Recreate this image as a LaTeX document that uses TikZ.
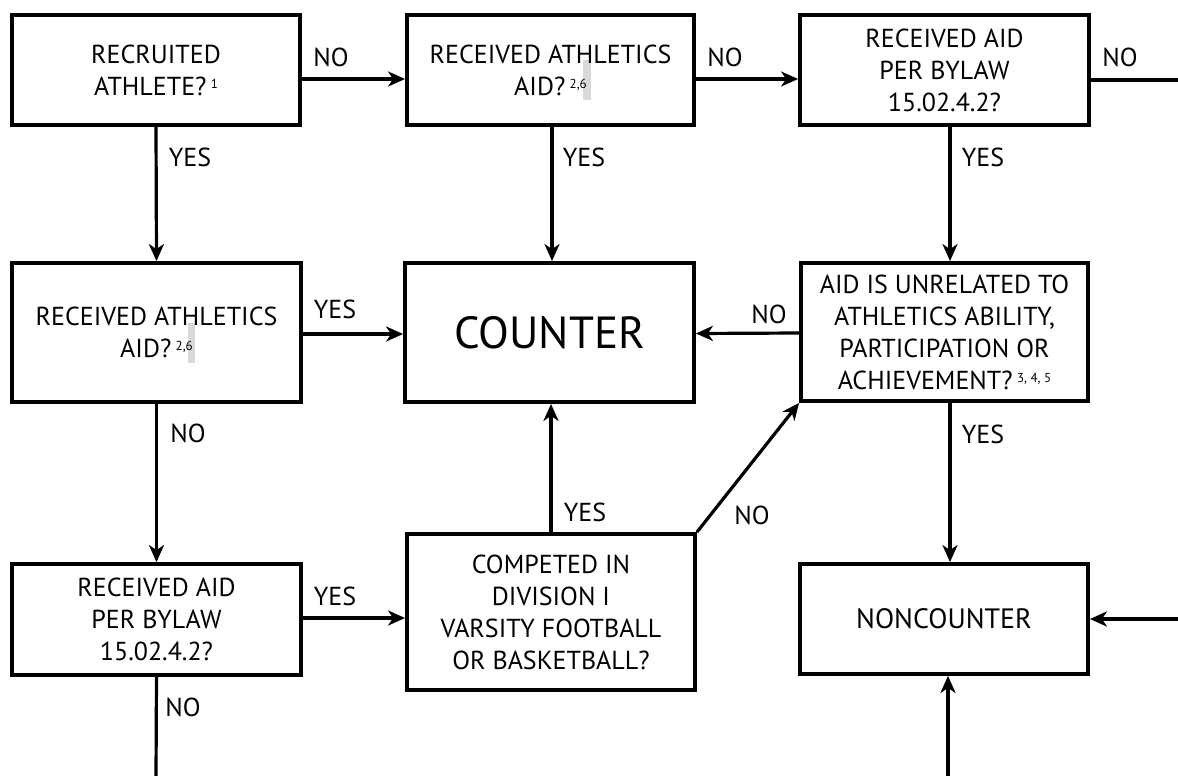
\documentclass[tikz,border=0pt]{standalone}
\usepackage{fontspec}
\setmainfont{PT Sans}
\usetikzlibrary{arrows.meta}
\newcommand{\lblfont}{\fontsize{26}{32}\selectfont}
\newcommand{\fnote}[1]{\,\raisebox{7pt}{\fontsize{13}{13}\selectfont #1}}
\tikzset{
  box/.style={draw, line width=3.8pt, align=center, inner sep=0pt, font=\lblfont},
  arr/.style={line width=3.2pt, -{Stealth[length=17pt,width=15pt,inset=5pt]}},
  plain/.style={line width=3.2pt},
  lab/.style={font=\lblfont, inner sep=0pt},
  bar/.style={fill=black!15, draw=none}
}
\begin{document}
\begin{tikzpicture}[x=1pt,y=-1pt]
\useasboundingbox (0,0) rectangle (1178,776);
% light gray marks behind footnote numbers
\fill[bar] (583,60) rectangle (591,100);
\fill[bar] (188,323) rectangle (195,363);
% boxes
\node[box, minimum width=288pt, minimum height=110pt] (A) at (156,70) {RECRUITED\\ATHLETE?\fnote{1}};
\node[box, minimum width=287pt, minimum height=110pt] (B) at (550.5,70) {RECEIVED ATHLETICS\\AID?\fnote{2,6}};
\node[box, minimum width=289pt, minimum height=110pt] (C) at (944.5,70) {RECEIVED AID\\PER BYLAW\\15.02.4.2?};
\node[box, minimum width=289pt, minimum height=139pt] (D) at (156.5,332.5) {RECEIVED ATHLETICS\\AID?\fnote{2,6}};
\node[box, minimum width=289pt, minimum height=139pt, font=\fontsize{45}{50}\selectfont] (E) at (549.5,332.5) {COUNTER};
\node[box, minimum width=287pt, minimum height=138pt] (F) at (944.5,332) {AID IS UNRELATED TO\\ATHLETICS ABILITY,\\PARTICIPATION OR\\ACHIEVEMENT?\fnote{3, 4, 5}};
\node[box, minimum width=289pt, minimum height=111pt] (G) at (156.5,619.5) {RECEIVED AID\\PER BYLAW\\15.02.4.2?};
\node[box, minimum width=288pt, minimum height=156pt] (H) at (551,612) {COMPETED IN\\DIVISION I\\VARSITY FOOTBALL\\OR BASKETBALL?};
\node[box, minimum width=288pt, minimum height=110pt, font=\fontsize{28}{32}\selectfont] (I) at (944,619) {NONCOUNTER};
% free ends
\coordinate (cR) at (1178,80);
\coordinate (gB) at (156,776);
\coordinate (iR) at (1178,619);
\coordinate (iB) at (948,776);
% connectors
\draw[arr] ([yshift=-9pt]A.east) -- ([yshift=-9pt]B.west);
\draw[arr] ([yshift=-9pt]B.east) -- ([yshift=-9pt]C.west);
\draw[plain] ([yshift=-10pt]C.east) -- (cR);
\draw[arr] (A.south) -- (D.north);
\draw[arr] ([xshift=1.5pt]B.south) -- ([xshift=2.5pt]E.north);
\draw[arr] ([xshift=5.5pt]C.south) -- ([xshift=5.5pt]F.north);
\draw[arr] ([yshift=-1.5pt]D.east) -- ([yshift=-1.5pt]E.west);
\draw[arr] ([yshift=-1pt]F.west) -- ([yshift=-1pt]E.east);
\draw[arr] (D.south) -- (G.north);
\draw[arr] ([xshift=5.5pt]F.south) -- ([xshift=6pt]I.north);
\draw[arr] ([yshift=1.5pt]G.east) -- ([yshift=-6pt]H.west);
\draw[plain] (G.south) -- (gB);
\draw[arr] (H.north) -- ([xshift=1.5pt]E.south);
\draw[arr] (H.north east) -- (F.south west);
\draw[arr] (iR) -- (I.east);
\draw[arr] (iB) -- ([xshift=4pt]I.south);
% labels
\node[lab] (l1) at (331,57) {NO};
\node[lab] (l2) at (725,57) {NO};
\node[lab] (l3) at (1120,57) {NO};
\node[lab] (l4) at (190,157) {YES};
\node[lab] (l5) at (584,157) {YES};
\node[lab] (l6) at (983,157) {YES};
\node[lab] (l7) at (335,309) {YES};
\node[lab] (l8) at (188,433) {NO};
\node[lab] (l9) at (769,314) {NO};
\node[lab] (l10) at (983,434) {YES};
\node[lab] (l11) at (335,596) {YES};
\node[lab] (l12) at (183,707) {NO};
\node[lab] (l13) at (585,512) {YES};
\node[lab] (l14) at (752,515) {NO};
\end{tikzpicture}
\end{document}
